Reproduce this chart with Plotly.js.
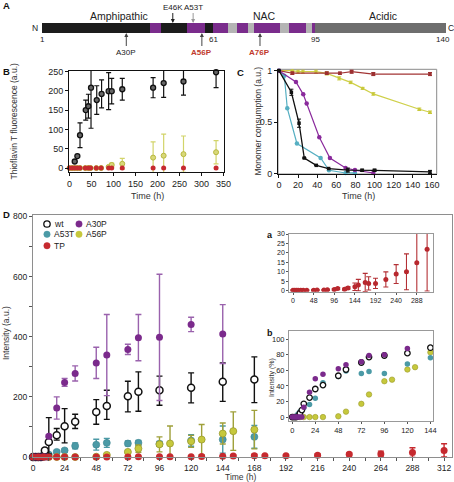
<!DOCTYPE html>
<html><head><meta charset="utf-8">
<script src="https://cdn.plot.ly/plotly-3.0.1.min.js"></script>
<style>html,body{margin:0;padding:0;background:#fff}#plot{width:454px;height:482px}</style>
</head><body><div id="plot"></div>
<script>
// ---------- Panel A: domain map ----------
const segStart = [1,38,42,51,57,60,65,68,72,74,83,86,92,94,95];
const segEnd   = [38,42,51,57,60,65,68,72,74,83,86,92,94,95,140];
const segType  = ['amph','rep','amph','rep','amph','rep','nac','rep','nac','rep','nac','rep','nac','rep','acid'];
const regionNames = ['Amphipathic','NAC','Acidic'];
const regionCenters = [27.5,77.4,118.3];
const boundaryLabels = ['1','61','95','140'];
const boundaryPos = [1,60,95,139];
const mutAbove = ['E46K','A53T'];
const mutAbovePos = [46,53];
const mutBelow = ['A30P','A56P','A76P'];
const mutBelowPos = [30,56,76];

// ---------- Panel B: ThT fluorescence ----------
const bTimeWT = [12,18,24,37,43,49,62,73,89,96,120,190,214,259,333];
const bWT     = [17,31,85,150,160,208,176,192,199,199,204,208,220,224,248];
const bWTerr  = [0,0,32,26,31,105,37,36,48,33,28,26,37,35,40];
const bTime   = [0,6,12,18,24,36,43,48,61,72,89,96,120,190,214,259,333];
const bA56P   = [0,0,0,0,0,0,0,0,0,0,3,8,11,27,32,36,41];
const bA56Perr= [0,0,0,0,0,0,0,0,0,0,3,5,14,41,56,47,30];
const bTP     = [0,0,0,0,0,0,0,0,0,0,0,0,0,0,0,0,0];

// ---------- Panel C: monomer consumption ----------
const cTimeWT = [0,13,21,26.5,39,52,72,87,100,158];
const cWT     = [1,0.79,0.49,0.152,0.081,0.05,0.035,0.033,0.033,0.017];
const cWTerr  = [0,0.03,0.04,0,0,0,0.02,0.01,0.01,0.015];
const cTimeA53T = [0,5.6,8.7,18.8,43.6,52.3,69.7,79.5];
const cA53T     = [1,0.95,0.635,0.293,0.152,0.033,0.007,0.007];
const cTimeA30P = [0,17.8,25.4,29,42.2,53.3,69.7,79.5,98.7];
const cA30P     = [1,0.89,0.77,0.68,0.353,0.152,0.055,0.035,0.007];
const cTimeA56P = [0,14,20,25,38.7,50,63,75,87.5,98.7,146.8,158];
const cA56P     = [1,1.0,0.99,0.99,0.99,0.973,0.925,0.886,0.828,0.774,0.625,0.596];
const cA56Perr  = [0,0.015,0.015,0.015,0.015,0.015,0.015,0.012,0.01,0.012,0.012,0.012];
const cTimeTP = [0,14,50,63.8,76,98.7,158];
const cTP     = [1,0.975,0.975,0.975,0.99,0.967,0.967];
const cTPerr  = [0,0.012,0.012,0.01,0.015,0.015,0.015];

// ---------- Panel D: intensity ----------
const dTimeWT = [0,2,4,6,9,12,18,24,32,48,56,72,80,96,120,144,168];
const dWT     = [0,0,0,0,22,50,72,102,117,150,170,202,217,222,230,250,258];
const dWTerrP = [0,0,0,0,0,81,23,59,25,41,52,50,66,47,50,63,75];
const dWTerrM = [0,0,0,0,0,40,16,55,22,41,45,52,65,50,50,65,77];
const dTimeA30P = [0,2,4,6,8,10,12,18,24,32,48,56,72,80,96,120,144];
const dA30P     = [0,0,0,0,0,0,69,163,248,278,313,339,358,397,398,441,409];
const dA30Perr  = [0,0,0,0,0,0,4,37,13,25,52,135,17,77,210,24,98];
const dTimeA53T = [0,2,4,6,8,10,12,18,24,32,48,56,72,80,96,120,144,168];
const dA53T     = [0,0,0,2,3,5,8,17,22,37,41,47,45,47,44,55,58,67];
const dA53Terr  = [0,0,0,0,0,0,3,5,5,10,18,15,8,8,8,19,45,38];
const dTimeA56P = [0,4,8,12,18,24,32,48,56,72,80,96,104,120,128,144,152,168];
const dA56P     = [0,0,0,0,0,0,0,1,7,17,28,42,45,52,58,78,86,91];
const dA56Perr  = [0,0,0,0,0,0,0,0,3,5,12,25,58,20,50,35,64,64];
const dTimeTP = [0,4,8,12,18,24,32,48,56,72,80,96,104,120,128,144,152,168,176,192,216,240,264,288,312];
const dTP     = [0.3,0.3,0.3,0.3,0.3,0.3,0.3,0.3,0.4,0.4,0.5,0.7,1.2,0.8,1.5,2.1,3.0,4.4,3.9,3.9,6.0,8.8,10,14.8,21.9];
const dTPerr  = [0.3,0.3,0.3,0.3,0.3,0.3,0.3,0.3,0.3,0.3,0.3,0.4,0.5,0.5,0.6,2,3,4.8,3.5,2.7,4,5,9.5,16,22];

// ---------- Inset b: intensity (%) ----------
const eTimeWT = [0,2,4,6,8,10,12,18,24,32,48,56,72,80,96,120,144];
const eWT     = [0,0,0,1,5,9,17,25,36,41,53,61,70,77,79,82,89];
const eTimeA30P = [0,2,4,6,8,10,12,18,24,32,48,56,72,80,96,120];
const eA30P     = [0,0,0,0,0,0,12.5,32,49,55,62,67,71,79,80,88];
const eTimeA53T = [0,2,4,6,8,10,12,18,24,32,48,56,72,80,96,120,144];
const eA53T     = [0,0,1,4,7,9,12,16,24,44,52,59,56,58.5,56,68,76];
const eTimeA56P = [0,4,8,12,18,24,32,48,56,72,80,96,104,120,128,144];
const eA56P     = [0,0,0,0,0,0,0,1,7,17,29,46,48,61,64,83];

// ---------- style ----------
const W = 454, H = 482;
const px = x => x / W;
const py = y => 1 - y / H;
const FONT = 'Liberation Sans, Arial, Helvetica, sans-serif';
const segColor = {amph:'#1c1c1c', rep:'#7a2c8c', nac:'#b4b4b4', acid:'#6e6e6e'};
const C = {wt:'#111111', A30P:'#7b2a8c', A53T:'#4b9aa6', A56P:'#c6c83c', TP:'#c62a2f'};

const traces = [];
// A
traces.push({type:'bar', orientation:'h', xaxis:'x', yaxis:'y',
  y: segStart.map(() => 0), base: segStart, x: segStart.map((s,i) => segEnd[i] - s),
  width: 1, marker:{color: segType.map(t => segColor[t]), line:{width:0}}, hoverinfo:'skip', showlegend:false});

// B
const ebB = (arr, col) => ({type:'data', array: arr, visible:true, color: col, thickness:1.2, width:2.5});
traces.push({type:'scatter', mode:'markers', xaxis:'x2', yaxis:'y2', x:bTime, y:bA56P,
  error_y: ebB(bA56Perr,'#d2d46a'), marker:{size:5, color:'#d8d878', line:{color:'#b8b840', width:1}}, cliponaxis:false});
traces.push({type:'scatter', mode:'markers', xaxis:'x2', yaxis:'y2', x:bTime, y:bTP,
  marker:{size:5, color:C.TP}, cliponaxis:false});
traces.push({type:'scatter', mode:'markers', xaxis:'x2', yaxis:'y2', x:bTimeWT, y:bWT,
  error_y: ebB(bWTerr,'#111'), marker:{size:5, color:'#666', line:{color:'#111', width:1.3}}, cliponaxis:false});

// C
const ebC = (arr, col) => ({type:'data', array: arr, visible:true, color: col, thickness:1, width:2});
traces.push({type:'scatter', mode:'lines+markers', xaxis:'x3', yaxis:'y3', x:cTimeA56P, y:cA56P,
  error_y: ebC(cA56Perr,'#c8c83a'), line:{color:'#cfd04a', width:1.2}, marker:{size:3, color:'#c8c83a'}, cliponaxis:false});
traces.push({type:'scatter', mode:'lines+markers', xaxis:'x3', yaxis:'y3', x:cTimeTP, y:cTP,
  error_y: ebC(cTPerr,'#9c2f30'), line:{color:'#a33535', width:1.2}, marker:{size:3.5, symbol:'square', color:'#9c2f30'}, cliponaxis:false});
traces.push({type:'scatter', mode:'lines+markers', xaxis:'x3', yaxis:'y3', x:cTimeA53T, y:cA53T,
  line:{color:'#56afc2', width:1.2}, marker:{size:4.5, color:'#56afc2'}, cliponaxis:false});
traces.push({type:'scatter', mode:'lines+markers', xaxis:'x3', yaxis:'y3', x:cTimeA30P, y:cA30P,
  line:{color:'#8a2a9c', width:1.2}, marker:{size:4.5, color:'#8a2a9c'}, cliponaxis:false});
traces.push({type:'scatter', mode:'lines+markers', xaxis:'x3', yaxis:'y3', x:cTimeWT, y:cWT,
  error_y: ebC(cWTerr,'#111'), line:{color:'#111', width:1.3}, marker:{size:3.5, symbol:'square', color:'#111'}, cliponaxis:false});

// D
const ebD = (arr, col, minus) => {const o = {type:'data', array: arr, visible:true, color: col, thickness:1.4, width:3};
  if (minus) {o.symmetric = false; o.arrayminus = minus;} return o;};
traces.push({type:'scatter', mode:'markers', xaxis:'x4', yaxis:'y4', x:dTimeA53T, y:dA53T,
  error_y: ebD(dA53Terr,'#4b9aa6'), marker:{size:7, color:C.A53T, line:{color:'#3d8590', width:0.6}}, cliponaxis:false});
traces.push({type:'scatter', mode:'markers', xaxis:'x4', yaxis:'y4', x:dTimeA56P, y:dA56P,
  error_y: ebD(dA56Perr,'#9fa03a'), marker:{size:7, color:C.A56P, line:{color:'#9a9a2c', width:0.8}}, cliponaxis:false});
traces.push({type:'scatter', mode:'markers', xaxis:'x4', yaxis:'y4', x:dTimeWT, y:dWT,
  error_y: ebD(dWTerrP,'#111', dWTerrM), marker:{size:7, color:'#fff', line:{color:'#111', width:1.5}}, cliponaxis:false});
traces.push({type:'scatter', mode:'markers', xaxis:'x4', yaxis:'y4', x:dTimeA30P, y:dA30P,
  error_y: ebD(dA30Perr,'#9a62ad'), marker:{size:7, color:C.A30P}, cliponaxis:false});
traces.push({type:'scatter', mode:'markers', xaxis:'x4', yaxis:'y4', x:dTimeTP, y:dTP,
  error_y: ebD(dTPerr,'#c62a2f'), marker:{size:7, color:C.TP}, cliponaxis:false});

// inset a
traces.push({type:'scatter', mode:'markers', xaxis:'x5', yaxis:'y5', x:dTimeTP, y:dTP,
  error_y:{type:'data', array:dTPerr, visible:true, color:'#b33035', thickness:1.1, width:2.5},
  marker:{size:5, color:'#b8282e'}, cliponaxis:true});

// inset b
traces.push({type:'scatter', mode:'markers', xaxis:'x6', yaxis:'y6', x:eTimeA56P, y:eA56P,
  marker:{size:5.5, color:C.A56P, line:{color:'#9a9a2c', width:0.6}}, cliponaxis:false});
traces.push({type:'scatter', mode:'markers', xaxis:'x6', yaxis:'y6', x:eTimeA53T, y:eA53T,
  marker:{size:5.5, color:C.A53T}, cliponaxis:false});
traces.push({type:'scatter', mode:'markers', xaxis:'x6', yaxis:'y6', x:eTimeWT, y:eWT,
  marker:{size:5.5, color:'#fff', line:{color:'#111', width:1.3}}, cliponaxis:false});
traces.push({type:'scatter', mode:'markers', xaxis:'x6', yaxis:'y6', x:eTimeA30P, y:eA30P,
  marker:{size:5.5, color:C.A30P}, cliponaxis:false});

// ---------- axes ----------
const tf = s => ({family:FONT, size:s, color:'#222'});
const baseAx = {showgrid:false, zeroline:false, showline:true, linecolor:'#111', linewidth:1,
  ticks:'outside', ticklen:3, tickwidth:1, tickcolor:'#111', fixedrange:true};

const layout = {
  width:W, height:H, margin:{l:0,r:0,t:0,b:0}, paper_bgcolor:'#fff', plot_bgcolor:'rgba(0,0,0,0)',
  showlegend:false, font:{family:FONT, color:'#222'}, bargap:0,
  xaxis:{domain:[px(42),px(446)], range:[1,140], visible:false, anchor:'y', fixedrange:true},
  yaxis:{domain:[py(33),py(23)], range:[-0.5,0.5], visible:false, anchor:'x', fixedrange:true},

  xaxis2:Object.assign({}, baseAx, {domain:[px(69),px(224)], range:[-1,351], anchor:'y2', mirror:true,
    ticklen:2.5, tickvals:[0,50,100,150,200,250,300,350], tickfont:tf(9)}),
  yaxis2:Object.assign({}, baseAx, {domain:[py(172.3),py(70.7)], range:[-11,252], anchor:'x2', mirror:true,
    tickvals:[0,50,100,150,200,250], tickfont:tf(9)}),

  xaxis3:Object.assign({}, baseAx, {domain:[px(278),px(436.7)], range:[-1,165], anchor:'y3',
    ticklen:2.5, tickvals:[0,20,40,60,80,100,120,140,160], tickfont:tf(9)}),
  yaxis3:Object.assign({}, baseAx, {domain:[py(174),py(69.3)], range:[-0.003,1.013], anchor:'x3',
    tickvals:[0,0.5,1], ticktext:['0','0.5','1'], tickfont:tf(9)}),

  xaxis4:Object.assign({}, baseAx, {domain:[px(33),px(452)], range:[0,318], anchor:'y4', mirror:true,
    linecolor:'#8e8e8e', tickcolor:'#555', tickvals:[0,24,48,72,96,120,144,168,192,216,240,264,288,312],
    tickfont:tf(8.5), minor:{tickvals:[12,36,60,84,108,132,156,180,204,228,252,276,300], ticks:'outside', ticklen:3, tickcolor:'#555'}}),
  yaxis4:Object.assign({}, baseAx, {domain:[py(457),py(215)], range:[0,805], anchor:'x4', mirror:true,
    linecolor:'#8e8e8e', tickcolor:'#555', tickvals:[0,200,400,600,800], tickfont:tf(8.5),
    minor:{tickvals:[100,300,500,700], ticks:'outside', ticklen:3, tickcolor:'#555'}}),

  xaxis5:Object.assign({}, baseAx, {domain:[px(289.3),px(432.7)], range:[-8.6,325], anchor:'y5', mirror:true,
    linecolor:'#999', tickcolor:'#555', ticklen:2, tickvals:[0,48,96,144,192,240,288], tickfont:tf(7)}),
  yaxis5:Object.assign({}, baseAx, {domain:[py(291.7),py(234)], range:[-0.5,30], anchor:'x5', mirror:true,
    linecolor:'#999', tickcolor:'#555', ticklen:2, tickvals:[0,5,10,15,20,25,30], tickfont:tf(7)}),

  xaxis6:Object.assign({}, baseAx, {domain:[px(289),px(433.3)], range:[-3.4,147], anchor:'y6', mirror:true,
    linecolor:'#999', tickcolor:'#555', ticklen:2, tickvals:[0,24,48,72,96,120,144], tickfont:tf(7.5)}),
  yaxis6:Object.assign({}, baseAx, {domain:[py(421.3),py(331.3)], range:[-5.4,110], anchor:'x6', mirror:true,
    linecolor:'#999', tickcolor:'#555', ticklen:2, tickvals:[0,20,40,60,80,100], tickfont:tf(7.5)}),
  shapes:[], annotations:[]
};

// C gray frame (top/right)
layout.shapes.push({type:'rect', xref:'x3 domain', yref:'y3 domain', x0:0, x1:1, y0:0, y1:1,
  line:{color:'#8a8a8a', width:1}, layer:'below'});

const ann = layout.annotations;
const txt = (text, x, y, opt) => ann.push(Object.assign({text, x:px(x), y:py(y), xref:'paper', yref:'paper',
  xanchor:'center', yanchor:'middle', showarrow:false, font:{family:FONT, size:9, color:'#222'}}, opt || {}));

// panel letters
txt('<b>A</b>', 6, 6, {font:{family:FONT,size:9.5,color:'#111'}});
txt('<b>B</b>', 6, 71, {font:{family:FONT,size:9.5,color:'#111'}});
txt('<b>C</b>', 240, 72, {font:{family:FONT,size:9.5,color:'#111'}});
txt('<b>D</b>', 6, 215, {font:{family:FONT,size:9.5,color:'#111'}});
txt('<b>a</b>', 270, 235, {font:{family:FONT,size:9,color:'#111'}});
txt('<b>b</b>', 270, 333, {font:{family:FONT,size:9,color:'#111'}});

// A: region labels
regionNames.forEach((n,i) => ann.push({text:n, x:regionCenters[i], xref:'x', y:py(16), yref:'paper',
  xanchor:'center', yanchor:'middle', showarrow:false, font:{family:FONT, size:10.5, color:'#222'}}));
boundaryLabels.forEach((n,i) => ann.push({text:n, x:boundaryPos[i], xref:'x', y:py(39.5), yref:'paper',
  xanchor:'center', yanchor:'middle', showarrow:false, font:{family:FONT, size:8, color:'#222'}}));
txt('N', 35, 28, {font:{family:FONT,size:8.5,color:'#222'}});
txt('C', 450.5, 28, {font:{family:FONT,size:8.5,color:'#222'}});
mutAbove.forEach((n,i) => ann.push({text:n, x:mutAbovePos[i], xref:'x', y:0.5, yref:'y', ax:0, ay:-16,
  showarrow:true, arrowhead:2, arrowsize:0.8, arrowwidth:1, arrowcolor: i === 0 ? '#222' : '#999',
  font:{family:FONT, size:8, color:'#222'}}));
mutBelow.forEach((n,i) => ann.push({text: i === 0 ? n : '<b>' + n + '</b>', x:mutBelowPos[i], xref:'x', y:-0.5, yref:'y', ax:0, ay:19,
  showarrow:true, arrowhead:2, arrowsize:0.8, arrowwidth:1, arrowcolor:'#444',
  font:{family:FONT, size:8, color: i === 0 ? '#222' : '#c0392b'}}));

// axis titles
txt('Thioflavin T fluorescence (a.u.)', 13, 121.5, {textangle:-90, font:{family:FONT,size:8.5,color:'#333'}});
txt('Time (h)', 147, 195.5, {font:{family:FONT,size:9,color:'#333'}});
txt('Monomer consumption (a.u.)', 257, 121.5, {textangle:-90, font:{family:FONT,size:8.5,color:'#333'}});
txt('Time (h)', 358, 195.5, {font:{family:FONT,size:9,color:'#333'}});
txt('Intensity (a.u.)', 6, 333, {textangle:-90, font:{family:FONT,size:8.5,color:'#333'}});
txt('Time (h)', 240, 477, {font:{family:FONT,size:8.5,color:'#333'}});
txt('Intensity (%)', 272, 378, {textangle:-90, font:{family:FONT,size:7,color:'#333'}});

// D legend
const legNames = ['wt','A30P','A53T','A56P','TP'];
const legX = [47,79,47,79,47];
const legY = [224,224,234.3,234.3,245.7];
legNames.forEach((n,i) => {
  const hollow = n === 'wt';
  layout.shapes.push({type:'circle', xref:'paper', yref:'paper',
    x0:px(legX[i]-3.2), x1:px(legX[i]+3.2), y0:py(legY[i]+3.2), y1:py(legY[i]-3.2),
    fillcolor: hollow ? '#fff' : C[n], line:{color: hollow ? '#111' : C[n], width: hollow ? 1.3 : 0.5}});
  txt(n, legX[i]+4.5, legY[i], {xanchor:'left', font:{family:FONT,size:8.5,color:'#222'}});
});

Plotly.newPlot('plot', traces, layout, {staticPlot:true, displayModeBar:false});
</script></body></html>
